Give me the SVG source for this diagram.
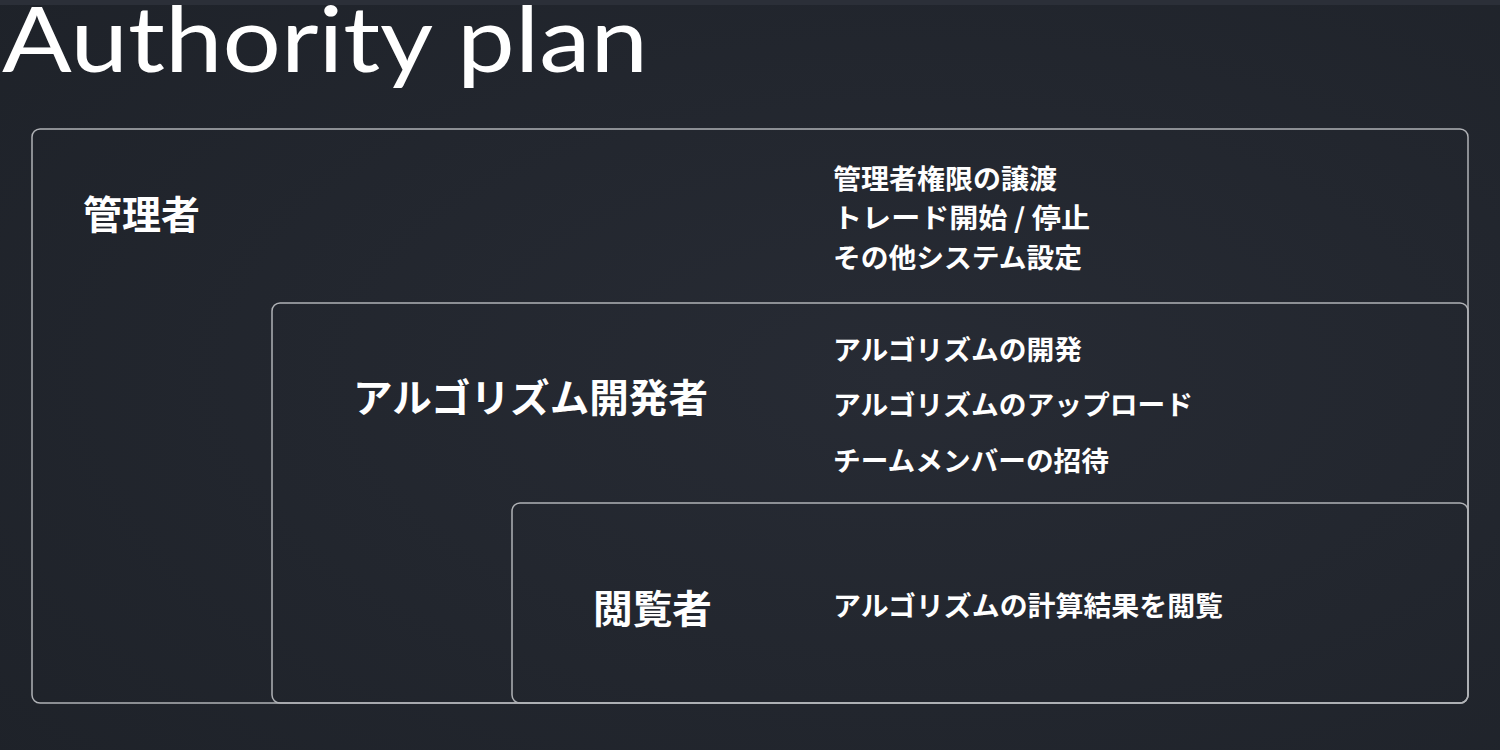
<svg xmlns="http://www.w3.org/2000/svg" width="1500" height="750" viewBox="0 0 1500 750">
  <defs>
    <radialGradient id="bg" cx="0.6" cy="0.5" r="0.8">
      <stop offset="0" stop-color="#272b34"/>
      <stop offset="1" stop-color="#1e2229"/>
    </radialGradient>
    <style>
      .box { fill: none; stroke: #b0b2b6; stroke-width: 1.5; }
      .role { fill: #ffffff; font-family: "Noto Sans CJK JP", "Noto Sans", sans-serif; font-weight: 700; font-size: 39px; dominant-baseline: central; }
      .perm { fill: #ffffff; font-family: "Noto Sans CJK JP", "Noto Sans", sans-serif; font-weight: 700; font-size: 27px; dominant-baseline: central; }
      .title { fill: #ffffff; font-family: Lato, "Liberation Sans", sans-serif; font-size: 91px; }
    </style>
  </defs>
  <rect x="0" y="0" width="1500" height="750" fill="url(#bg)"/>
  <rect x="0" y="0" width="1500" height="5" fill="#2b2f38"/>
  <text class="title" x="2" y="72" textLength="646" lengthAdjust="spacingAndGlyphs">Authority plan</text>

  <g id="admin">
    <rect class="box" x="32" y="129" width="1436" height="574" rx="8"/>
    <text class="role" x="83" y="212" textLength="117" lengthAdjust="spacingAndGlyphs">管理者</text>
    <text class="perm" x="833" y="177" textLength="224" lengthAdjust="spacingAndGlyphs">管理者権限の譲渡</text>
    <text class="perm" x="833" y="216" textLength="257" lengthAdjust="spacingAndGlyphs">トレード開始 / 停止</text>
    <text class="perm" x="833" y="256" textLength="249" lengthAdjust="spacingAndGlyphs">その他システム設定</text>
  </g>
  <g id="developer">
    <rect class="box" x="272" y="303" width="1196" height="400" rx="8"/>
    <text class="role" x="353" y="395" textLength="355" lengthAdjust="spacingAndGlyphs">アルゴリズム開発者</text>
    <text class="perm" x="833" y="348" textLength="249" lengthAdjust="spacingAndGlyphs">アルゴリズムの開発</text>
    <text class="perm" x="833" y="403" textLength="360" lengthAdjust="spacingAndGlyphs">アルゴリズムのアップロード</text>
    <text class="perm" x="833" y="459" textLength="276" lengthAdjust="spacingAndGlyphs">チームメンバーの招待</text>
  </g>
  <g id="viewer">
    <rect class="box" x="512" y="503" width="956" height="200" rx="8"/>
    <text class="role" x="593" y="606" textLength="119" lengthAdjust="spacingAndGlyphs">閲覧者</text>
    <text class="perm" x="833" y="604" textLength="390" lengthAdjust="spacingAndGlyphs">アルゴリズムの計算結果を閲覧</text>
  </g>
</svg>
